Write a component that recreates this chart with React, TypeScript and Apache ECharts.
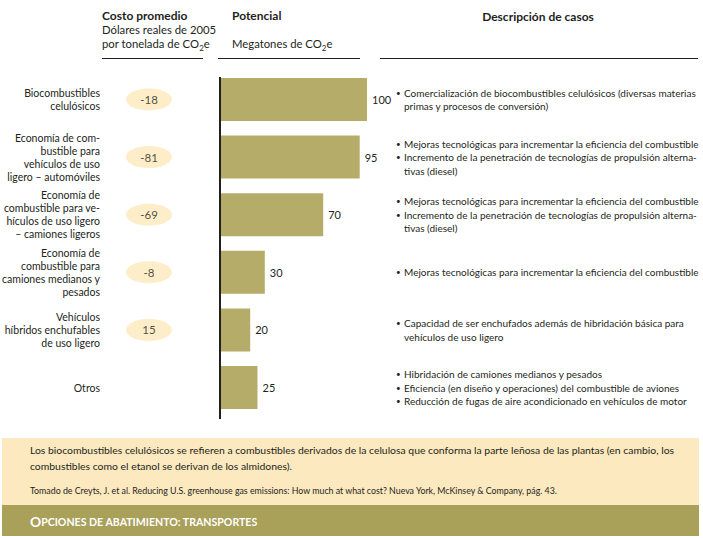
import React, { useEffect, useRef } from "react";
import * as echarts from "echarts";

const FONT = "Lato, 'Open Sans', sans-serif";
const DARK = "#231f20";
const BAR = "#b6ac6a";
const PEACH = "#fde8bb";

const categories = [
  "Biocombustibles\ncelulósicos",
  "Economía de com-\nbustible para\nvehículos de uso\nligero – automóviles",
  "Economía de\ncombustible para ve-\nhículos de uso ligero\n– camiones ligeros",
  "Economía de\ncombustible para\ncamiones medianos y\npesados",
  "Vehículos\nhíbridos enchufables\nde uso ligero",
  "Otros",
];
const potential = [100, 95, 70, 30, 20, 25];
const costs: (number | null)[] = [-18, -81, -69, -8, 15, null];
const descriptions: string[][][] = [
  [["Comercialización de biocombustibles celulósicos (diversas materias", "primas y procesos de conversión)"]],
  [
    ["Mejoras tecnológicas para incrementar la eficiencia del combustible"],
    ["Incremento de la penetración de tecnologías de propulsión alterna-", "tivas (diesel)"],
  ],
  [
    ["Mejoras tecnológicas para incrementar la eficiencia del combustible"],
    ["Incremento de la penetración de tecnologías de propulsión alterna-", "tivas (diesel)"],
  ],
  [["Mejoras tecnológicas para incrementar la eficiencia del combustible"]],
  [["Capacidad de ser enchufados además de hibridación básica para", "vehículos de uso ligero"]],
  [
    ["Hibridación de camiones medianos y pesados"],
    ["Eficiencia (en diseño y operaciones) del combustible de aviones"],
    ["Reducción de fugas de aire acondicionado en vehículos de motor"],
  ],
];
const footerNote =
  "Los biocombustibles celulósicos se refieren a combustibles derivados de la celulosa que conforma la parte leñosa de las plantas (en cambio, los\ncombustibles como el etanol se derivan de los almidones).";
const sourceNote =
  "Tomado de Creyts, J. et al. Reducing U.S. greenhouse gas emissions: How much at what cost? Nueva York, McKinsey & Company, pág. 43.";

const GRID_TOP = 70.7;
const GRID_H = 345.6;

export default function App() {
  const ref = useRef<HTMLDivElement>(null);
  useEffect(() => {
    if (!ref.current) return;
    const chart = echarts.init(ref.current, undefined, { renderer: "svg" });
    const descLabel = (_v: string, idx: number) => {
      const out: string[] = [];
      (descriptions[idx] || []).forEach((bullet) => {
        bullet.forEach((line, li) => {
          out.push((li === 0 ? "{b|•}" : "{i| }") + "{t|" + line + "}");
        });
      });
      return out.join("\n");
    };
    const sub = { fontSize: 8, padding: [8, 0, 0, 0], fontFamily: FONT, fill: DARK };
    const n = { fontSize: 11.3, fontFamily: FONT, fill: DARK };
    chart.setOption({
      animation: false,
      textStyle: { fontFamily: FONT },
      grid: [
        { left: 221, width: 146, top: GRID_TOP, height: GRID_H, outerBoundsMode: "none", containLabel: false },
        { left: 126, width: 46, top: GRID_TOP, height: GRID_H, outerBoundsMode: "none", containLabel: false },
        { left: 385, width: 10, top: GRID_TOP, height: GRID_H, outerBoundsMode: "none", containLabel: false },
      ],
      xAxis: [
        { gridIndex: 0, type: "value", min: 0, max: 100, show: false },
        { gridIndex: 1, type: "value", min: 0, max: 1, show: false },
        { gridIndex: 2, type: "value", min: 0, max: 1, show: false },
      ],
      yAxis: [
        {
          gridIndex: 0,
          type: "category",
          inverse: true,
          data: categories,
          axisLine: { show: false },
          axisTick: { show: false },
          axisLabel: { show: false },
        },
        {
          gridIndex: 1,
          type: "category",
          inverse: true,
          data: categories,
          axisLine: { show: false },
          axisTick: { show: false },
          axisLabel: {
            interval: 0,
            margin: 26,
            fontSize: 10.5,
            lineHeight: 13,
            color: DARK,
            fontFamily: FONT,
            align: "right",
          },
        },
        {
          gridIndex: 2,
          type: "category",
          inverse: true,
          position: "right",
          data: categories,
          axisLine: { show: false },
          axisTick: { show: false },
          axisLabel: {
            interval: 0,
            margin: 1,
            align: "left",
            formatter: descLabel,
            rich: {
              b: { width: 8, fontSize: 8, lineHeight: 13.5, color: DARK, fontFamily: FONT },
              i: { width: 8, fontSize: 8, lineHeight: 13.5, color: DARK, fontFamily: FONT },
              t: { fontSize: 10, lineHeight: 13.5, color: DARK, fontFamily: FONT },
            },
          },
        },
      ],
      series: [
        {
          type: "bar",
          xAxisIndex: 0,
          yAxisIndex: 0,
          data: potential,
          barWidth: 43,
          itemStyle: { color: BAR },
          label: {
            show: true,
            position: "right",
            distance: 5,
            fontSize: 11,
            color: DARK,
            fontFamily: FONT,
          },
        },
        {
          type: "scatter",
          xAxisIndex: 1,
          yAxisIndex: 1,
          symbol: "circle",
          symbolSize: [46, 22],
          itemStyle: { color: PEACH },
          data: costs
            .map((c, i) => (c === null ? null : [0.5, i, c]))
            .filter((d) => d !== null),
          label: {
            show: true,
            position: "inside",
            fontSize: 11.5,
            color: DARK,
            fontFamily: FONT,
            formatter: (p: any) => String(p.value[2]),
          },
        },
      ],
      graphic: [
        { type: "text", left: 102, top: 9, style: { text: "Costo promedio", fontSize: 12, fontWeight: "bold", fontFamily: FONT, fill: DARK } },
        { type: "text", left: 102, top: 24, style: { text: "Dólares reales de 2005", fontSize: 11.3, fontFamily: FONT, fill: DARK } },
        {
          type: "text",
          left: 102,
          top: 38,
          style: { text: "{n|por tonelada de CO}{s|2}{n|e}", rich: { n, s: sub } },
        },
        { type: "line", shape: { x1: 102, y1: 58.5, x2: 203, y2: 58.5 }, style: { stroke: DARK, lineWidth: 1 } },
        { type: "text", left: 232, top: 9, style: { text: "Potencial", fontSize: 12, fontWeight: "bold", fontFamily: FONT, fill: DARK } },
        {
          type: "text",
          left: 232,
          top: 38,
          style: { text: "{n|Megatones de CO}{s|2}{n|e}", rich: { n, s: sub } },
        },
        { type: "line", shape: { x1: 218, y1: 58.5, x2: 360, y2: 58.5 }, style: { stroke: DARK, lineWidth: 1 } },
        {
          type: "text",
          x: 538,
          y: 16,
          style: { text: "Descripción de casos", fontSize: 12, fontWeight: "bold", fontFamily: FONT, fill: DARK, align: "center", verticalAlign: "middle" },
        },
        { type: "line", shape: { x1: 380, y1: 58.5, x2: 698, y2: 58.5 }, style: { stroke: DARK, lineWidth: 1 } },
        { type: "line", shape: { x1: 220, y1: 77, x2: 220, y2: 419 }, style: { stroke: DARK, lineWidth: 2 } },
        { type: "rect", shape: { x: 2, y: 438, width: 697, height: 67 }, style: { fill: "#fde9bf" } },
        { type: "rect", shape: { x: 2, y: 505, width: 697, height: 31 }, style: { fill: "#a9a05a" } },
        {
          type: "text",
          x: 30,
          y: 442,
          style: { text: footerNote, fontSize: 10.4, lineHeight: 16, fontFamily: FONT, fill: DARK },
        },
        {
          type: "text",
          x: 30,
          y: 486,
          style: { text: sourceNote, fontSize: 8.8, fontFamily: FONT, fill: DARK },
        },
        {
          type: "text",
          x: 30,
          y: 521,
          style: {
            text: "{a|O}{b|PCIONES DE ABATIMIENTO: TRANSPORTES}",
            verticalAlign: "middle",
            rich: {
              a: { fontSize: 13.8, fontWeight: "bold", fill: "#ffffff", fontFamily: FONT },
              b: { fontSize: 10.6, fontWeight: "bold", fill: "#ffffff", fontFamily: FONT, padding: [2, 0, 0, 0] },
            },
          },
        },
      ],
    });
    return () => chart.dispose();
  }, []);
  return (
    <div
      ref={ref}
      style={{ position: "absolute", left: 0, top: 0, width: 703, height: 538, background: "#ffffff" }}
    />
  );
}
